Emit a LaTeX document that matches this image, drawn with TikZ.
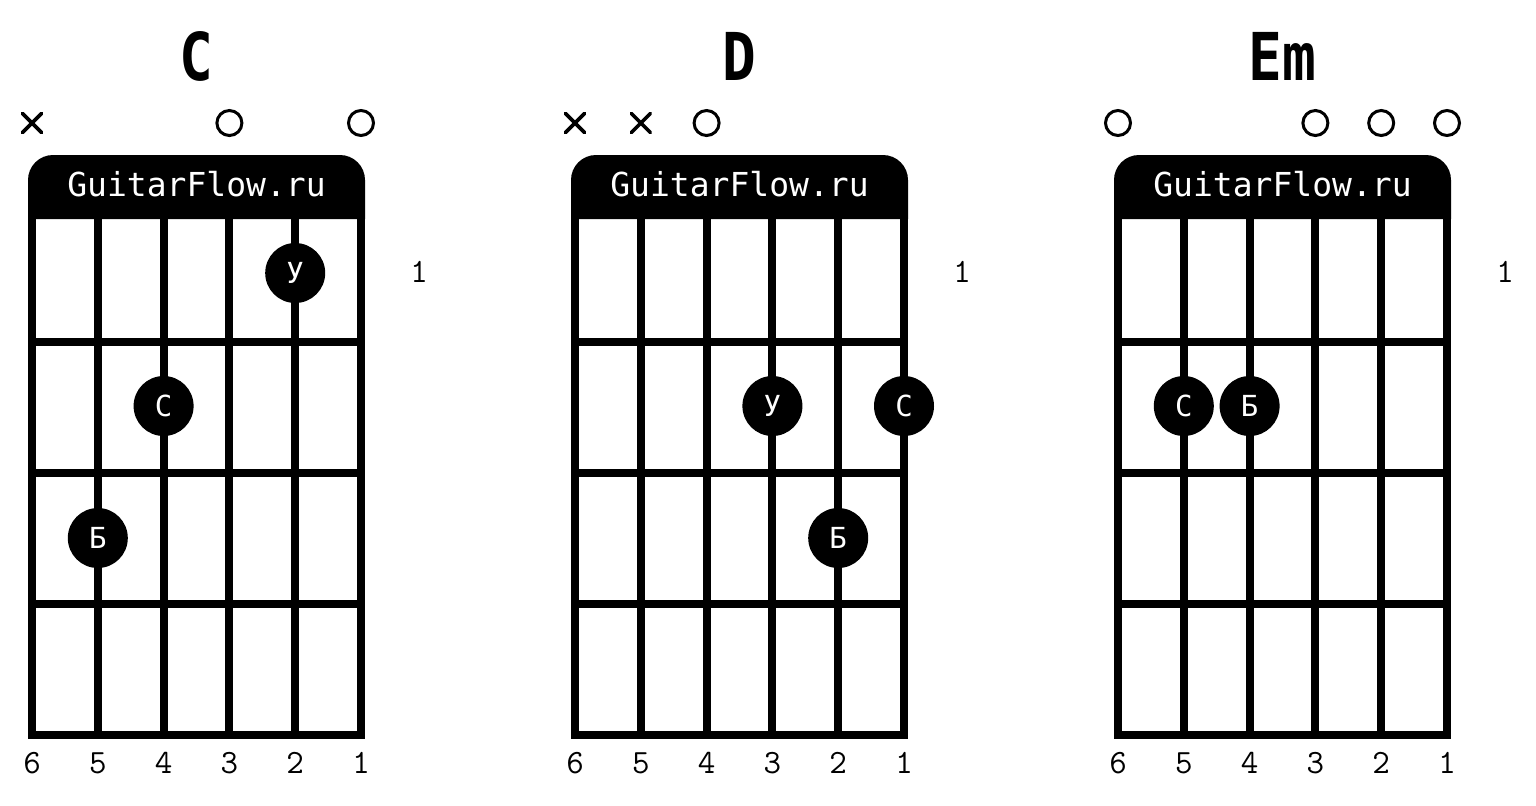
\documentclass[tikz,border=0pt]{standalone}
\usepackage{fontspec}
\usetikzlibrary{calc}
\newfontfamily\gmono{DejaVu Sans Mono}
\tikzset{
  px/.style={x=0.5pt,y=-0.5pt},
  grid/.style={line width=4pt,black},
  fdot/.style={circle,fill=black,inner sep=0pt,minimum size=30pt,text=white,font=\gmono\fontsize{14.5}{14.5}\selectfont},
  chordname/.style={font=\gmono\bfseries\fontsize{33}{33}\selectfont},
  brand/.style={text=white,font=\gmono\fontsize{16.5}{16.5}\selectfont},
  numlab/.style={font=\ttfamily\fontsize{17}{17}\selectfont},
  openmark/.style={circle,draw=black,line width=1.5pt,inner sep=0pt,minimum size=12.5pt},
  mutemark/.style={line width=1.8pt,line cap=round},
}
\begin{document}
\begin{tikzpicture}[px]
\useasboundingbox (0,0) rectangle (1536,805);
\foreach \k/\o/\nm in {c/0/C, d/543/D, e/1086/Em}{
  % strings and frets
  \draw[grid] (32+\o,211) rectangle (361+\o,735);
  \foreach \i in {1,2,3,4}{
    \draw[grid] ({32+65.8*\i+\o},211) -- ({32+65.8*\i+\o},735);
  }
  \foreach \f in {342,473,604}{
    \draw[grid] (32+\o,\f) -- (361+\o,\f);
  }
  % header
  \fill[black] (28+\o,219) -- (28+\o,180) arc[start angle=180,end angle=90,radius=12.5pt]
     -- (340+\o,155) arc[start angle=90,end angle=0,radius=12.5pt] -- (365+\o,219) -- cycle;
  \node[brand] (\k-brand) at (196.5+\o,184) {GuitarFlow.ru};
  \node[chordname] (\k-name) at (196.5+\o,56) {\scalebox{0.85}[1]{\nm}};
  \node[numlab] (\k-fret) at (419+\o,272) {1};
  \foreach \n in {6,5,4,3,2,1}{
    \node[numlab] (\k-n\n) at ({32+65.8*(6-\n)+\o},763) {\n};
  }
}
% open / muted markers
\newcommand\mutex[3]{%
  \coordinate (#1) at (#2,#3);
  \draw[mutemark] ($(#1)+(-9.5,-9.5)$) -- ($(#1)+(9.5,9.5)$);
  \draw[mutemark] ($(#1)+(-9.5,9.5)$) -- ($(#1)+(9.5,-9.5)$);
}
\mutex{c-m6}{32}{123}
\node[openmark] (c-o3) at (229.4,123) {};
\node[openmark] (c-o1) at (361,123) {};
\mutex{d-m6}{575}{123}
\mutex{d-m5}{640.8}{123}
\node[openmark] (d-o4) at (706.6,123) {};
\node[openmark] (e-o6) at (1118,123) {};
\node[openmark] (e-o3) at (1315.4,123) {};
\node[openmark] (e-o2) at (1381.2,123) {};
\node[openmark] (e-o1) at (1447,123) {};
% finger dots
\node[fdot] (c-u) at (295.2,273) {У};
\node[fdot] (c-s) at (163.6,406) {С};
\node[fdot] (c-b) at (97.8,538) {Б};
\node[fdot] (d-u) at (772.4,406) {У};
\node[fdot] (d-s) at (904,406) {С};
\node[fdot] (d-b) at (838.2,538) {Б};
\node[fdot] (e-s) at (1183.8,406) {С};
\node[fdot] (e-b) at (1249.6,406) {Б};
\end{tikzpicture}
\end{document}
